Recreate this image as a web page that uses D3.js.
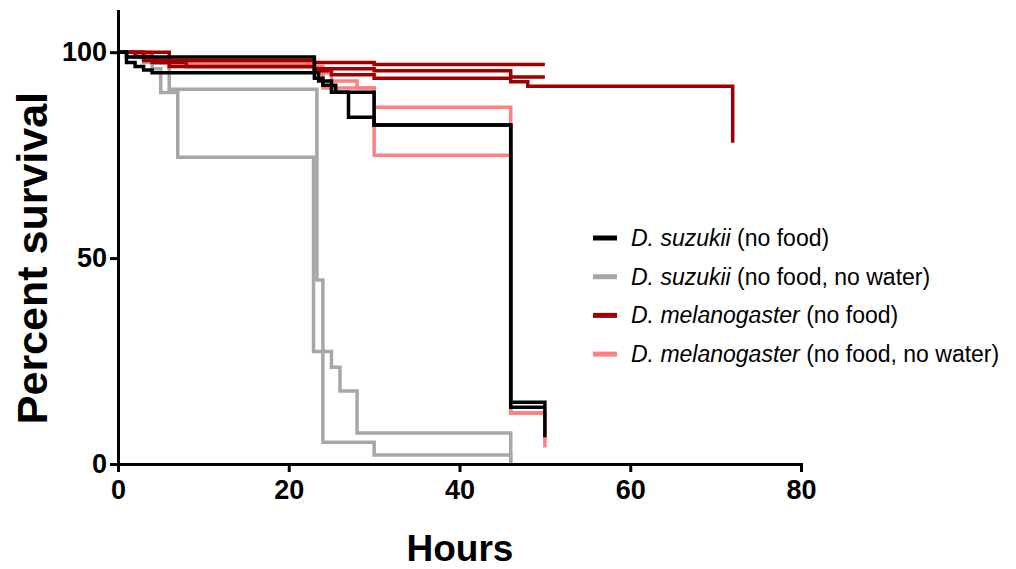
<!DOCTYPE html>
<html lang="en">
<head>
  <meta charset="UTF-8" />
  <title>Survival curves</title>
  <script src="https://d3js.org/d3.v7.min.js"></script>
  <style>
    body {
      margin: 0;
      background: #fff;
      font-family: "Liberation Sans", Arial, sans-serif;
    }
    svg {
      display: block;
    }
    .axis path, .axis line {
      stroke: #000;
      stroke-width: 3;
    }
    .axis text {
      font-size: 27px;
      font-weight: bold;
      fill: #000;
    }
    path.curve {
      fill: none;
      stroke-width: 3.5;
    }
    text.title {
      font-weight: bold;
      fill: #000;
    }
    text.legend {
      font-size: 23px;
      fill: #000;
    }
  </style>
</head>
<body>

<svg width="1016" height="569"></svg>

<script>
  // [hours, percent survival] step points, two or three replicates per group
  const suzukiiFoodA = [[0,100],[1,98.8],[23,93.7],[24,92],[25.5,90.3],[27,84.2],[30,82.3],[46,15],[50,6.5]];
  const suzukiiFoodB = [[0,100],[1,97.5],[2,96.5],[3,95.7],[4,95],[23.5,93],[25,90.3],[30,82.3],[46,13.8],[50,13.8]];

  const suzukiiDryA = [[0,100],[2,98.7],[4,97.4],[6,91],[23.3,44.7],[24,5.3],[30,2.2],[46,0]];
  const suzukiiDryB = [[0,100],[1,98.8],[3,97.5],[4,96],[5,90.2],[7,74.5],[22.9,27.3],[25,23.5],[26,17.7],[28,7.5],[46,0]];

  const melanoFoodA = [[0,100],[6,98],[23,97.5],[30,97],[50,97]];
  const melanoFoodB = [[0,100],[2,99],[4,97.5],[8,96.5],[23,96],[30,95.5],[46,94],[50,94]];
  const melanoFoodC = [[0,100],[3,98],[6,96.5],[23,95.5],[25,94.5],[30,93.7],[46,92.8],[48,91.7],[72,78]];

  const melanoDryA = [[0,100],[3,98.5],[5,97.5],[23,96.5],[24,91.3],[30,86.6],[46,12.4],[50,4]];
  const melanoDryB = [[0,100],[4,98],[6,96.5],[23.5,95],[25,93],[28,91.3],[30,75],[46,12.4],[50,6]];

  const groupNames = [
    ["D. suzukii", " (no food)"],
    ["D. suzukii", " (no food, no water)"],
    ["D. melanogaster", " (no food)"],
    ["D. melanogaster", " (no food, no water)"]
  ];
  const groupColors = ["#000000", "#a7a7aa", "#a00000", "#ff8080"];
  const groupCurves = [
    [suzukiiFoodA, suzukiiFoodB],
    [suzukiiDryA, suzukiiDryB],
    [melanoFoodA, melanoFoodB, melanoFoodC],
    [melanoDryA, melanoDryB]
  ];

  const xTicks = [0, 20, 40, 60, 80];
  const yTicks = [0, 50, 100];

  const svg = d3.select("svg");

  const x = d3.scaleLinear().domain([0, 80]).range([118, 801]);
  const y = d3.scaleLinear().domain([0, 110]).range([464, 11]);

  const line = d3.line()
    .x(d => x(d[0]))
    .y(d => y(d[1]))
    .curve(d3.curveStepAfter);

  // curves, lightest groups first so dark lines sit on top like the original
  const drawOrder = [1, 3, 2, 0];
  drawOrder.forEach(g => {
    groupCurves[g].forEach(c => {
      svg.append("path")
        .attr("class", "curve")
        .attr("stroke", groupColors[g])
        .attr("d", line(c));
    });
  });

  // axes
  svg.append("g")
    .attr("class", "axis")
    .attr("transform", `translate(0,${y(0)})`)
    .call(d3.axisBottom(x).tickValues(xTicks).tickSize(8).tickPadding(8).tickSizeOuter(0))
    .call(g => g.select(".domain").attr("stroke-linecap", "square"));

  svg.append("g")
    .attr("class", "axis")
    .attr("transform", `translate(${x(0)},0)`)
    .call(d3.axisLeft(y).tickValues(yTicks).tickSize(8).tickPadding(3).tickSizeOuter(0))
    .call(g => g.select(".domain").attr("stroke-linecap", "square"));

  svg.selectAll(".axis text").attr("font-family", null);

  // axis titles
  svg.append("text")
    .attr("class", "title")
    .attr("x", 460)
    .attr("y", 561)
    .attr("text-anchor", "middle")
    .style("font-size", "37px")
    .text("Hours");

  svg.append("text")
    .attr("class", "title")
    .attr("transform", `translate(47,${y(50)}) rotate(-90)`)
    .attr("text-anchor", "middle")
    .style("font-size", "43px")
    .text("Percent survival");

  // legend
  const legend = svg.append("g").attr("transform", "translate(593,238)");
  groupNames.forEach((n, i) => {
    const row = legend.append("g").attr("transform", `translate(0,${i * 38.7})`);
    row.append("line")
      .attr("x1", 0).attr("x2", 24)
      .attr("stroke", groupColors[i])
      .attr("stroke-width", 5);
    const t = row.append("text")
      .attr("class", "legend")
      .attr("x", 38)
      .attr("dy", "0.35em");
    t.append("tspan").style("font-style", "italic").text(n[0]);
    t.append("tspan").text(n[1]);
  });
</script>

</body>
</html>
